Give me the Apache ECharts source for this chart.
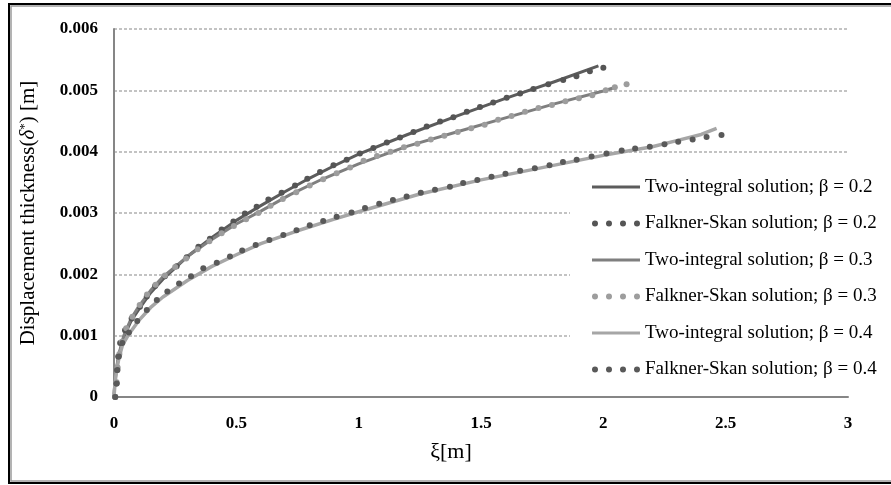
<!DOCTYPE html>
<html>
<head>
<meta charset="utf-8">
<script src="https://cdn.jsdelivr.net/npm/echarts@6/dist/echarts.min.js"></script>
<style>
  html, body { margin: 0; padding: 0; background: #fff; }
  #chart { width: 891px; height: 485px; }
</style>
</head>
<body>
<div id="chart"></div>
<script>
// Displacement thickness δ* [m] against ξ [m]: two-integral solutions (lines)
// and Falkner-Skan solutions (dots) for β = 0.2, 0.3 and 0.4.

const xTickLabels = ['0', '0.5', '1', '1.5', '2', '2.5', '3'];
const yTickLabels = ['0', '0.001', '0.002', '0.003', '0.004', '0.005', '0.006'];

const seriesNames = [
  'Two-integral solution; β = 0.2',
  'Falkner-Skan solution; β = 0.2',
  'Two-integral solution; β = 0.3',
  'Falkner-Skan solution; β = 0.3',
  'Two-integral solution; β = 0.4',
  'Falkner-Skan solution; β = 0.4'
];

// β = 0.2
const twoIntegral02 = [
  [0, 0], [0.003, 0.00022], [0.01, 0.00045], [0.02, 0.00068], [0.04, 0.00098],
  [0.07, 0.00124], [0.1, 0.00142], [0.15, 0.0017], [0.2, 0.00192], [0.3, 0.00229],
  [0.4, 0.0026], [0.5, 0.00288], [0.6, 0.00312], [0.7, 0.00335], [0.8, 0.00357],
  [0.9, 0.00377], [1.0, 0.00396], [1.2, 0.00428], [1.4, 0.00458], [1.6, 0.00487],
  [1.8, 0.00514], [1.98, 0.0054]
];
const falknerSkan02 = [
  [0.005, 0], [0.01, 0.00022], [0.013, 0.00044], [0.017, 0.00066], [0.025, 0.00088],
  [0.045, 0.00109], [0.072, 0.00128], [0.106, 0.00147], [0.134, 0.00164], [0.168, 0.00181],
  [0.208, 0.00197], [0.256, 0.00213], [0.297, 0.00228], [0.345, 0.00245], [0.392, 0.00258],
  [0.44, 0.00273], [0.488, 0.00286], [0.535, 0.00299], [0.583, 0.0031], [0.631, 0.00322],
  [0.685, 0.00333], [0.74, 0.00345], [0.79, 0.00356], [0.842, 0.00367], [0.897, 0.00378],
  [0.951, 0.00387], [1.005, 0.00397], [1.06, 0.00406], [1.115, 0.00415], [1.169, 0.00423],
  [1.224, 0.00432], [1.278, 0.00441], [1.333, 0.00449], [1.387, 0.00456], [1.442, 0.00465],
  [1.496, 0.00473], [1.55, 0.0048], [1.605, 0.00488], [1.66, 0.00495], [1.714, 0.00502],
  [1.775, 0.0051], [1.836, 0.00517], [1.89, 0.00523], [1.945, 0.00531], [2.0, 0.00537]
];

// β = 0.3
const twoIntegral03 = [
  [0, 0], [0.003, 0.00023], [0.01, 0.00047], [0.02, 0.0007], [0.04, 0.001],
  [0.07, 0.00128], [0.1, 0.00147], [0.15, 0.00174], [0.2, 0.00196], [0.3, 0.00229],
  [0.4, 0.00257], [0.5, 0.00282], [0.6, 0.00303], [0.72, 0.0033], [0.85, 0.00355],
  [1.0, 0.0038], [1.2, 0.00409], [1.4, 0.00432], [1.6, 0.00455], [1.8, 0.00478],
  [2.0, 0.00499], [2.05, 0.00505]
];
const falknerSkan03 = [
  [0.005, 0], [0.011, 0.00024], [0.015, 0.00048], [0.022, 0.0007], [0.032, 0.0009],
  [0.05, 0.00112], [0.075, 0.00131], [0.105, 0.0015], [0.135, 0.00167], [0.17, 0.00183],
  [0.208, 0.00198], [0.25, 0.00212], [0.295, 0.00226], [0.342, 0.00241], [0.39, 0.00254],
  [0.44, 0.00267], [0.49, 0.00279], [0.54, 0.0029], [0.59, 0.003], [0.64, 0.00312],
  [0.69, 0.00323], [0.745, 0.00334], [0.8, 0.00345], [0.855, 0.00355], [0.91, 0.00365],
  [0.965, 0.00374], [1.02, 0.00385], [1.075, 0.00393], [1.13, 0.004], [1.185, 0.00407],
  [1.24, 0.00413], [1.295, 0.0042], [1.35, 0.00426], [1.405, 0.00432], [1.46, 0.00438],
  [1.515, 0.00444], [1.57, 0.00452], [1.625, 0.00458], [1.68, 0.00465], [1.735, 0.00471],
  [1.79, 0.00476], [1.845, 0.00482], [1.9, 0.00487], [1.955, 0.00492], [2.01, 0.005],
  [2.047, 0.00505], [2.095, 0.0051]
];

// β = 0.4
const twoIntegral04 = [
  [0, 0], [0.004, 0.00022], [0.01, 0.00042], [0.02, 0.00063], [0.035, 0.00085],
  [0.06, 0.00102], [0.1, 0.00124], [0.15, 0.00146], [0.2, 0.00163], [0.3, 0.0019],
  [0.4, 0.00213], [0.5, 0.00232], [0.6, 0.0025], [0.75, 0.00271], [0.9, 0.0029],
  [1.0, 0.00302], [1.25, 0.00331], [1.5, 0.00354], [1.75, 0.00374], [2.0, 0.00394],
  [2.2, 0.00408], [2.3, 0.00418], [2.4, 0.00428], [2.463, 0.00438]
];
const falknerSkan04 = [
  [0.005, 0], [0.011, 0.00022], [0.014, 0.00044], [0.02, 0.00066], [0.034, 0.00088],
  [0.061, 0.00105], [0.095, 0.00124], [0.134, 0.00142], [0.175, 0.00158], [0.218, 0.00172],
  [0.266, 0.00185], [0.315, 0.00197], [0.365, 0.0021], [0.42, 0.00219], [0.474, 0.00229],
  [0.524, 0.00239], [0.579, 0.00248], [0.635, 0.00256], [0.692, 0.00264], [0.746, 0.00272],
  [0.8, 0.0028], [0.855, 0.00287], [0.91, 0.00294], [0.971, 0.00301], [1.026, 0.00308],
  [1.084, 0.00315], [1.14, 0.00321], [1.196, 0.00327], [1.254, 0.00333], [1.312, 0.00338],
  [1.373, 0.00343], [1.427, 0.00349], [1.485, 0.00354], [1.543, 0.00359], [1.6, 0.00364],
  [1.66, 0.00369], [1.72, 0.00373], [1.78, 0.00378], [1.835, 0.00383], [1.891, 0.00387],
  [1.952, 0.00392], [2.013, 0.00397], [2.075, 0.00402], [2.13, 0.00405], [2.19, 0.00408],
  [2.25, 0.00412], [2.306, 0.00416], [2.365, 0.0042], [2.422, 0.00424], [2.483, 0.00427]
];

const SERIF = '"Liberation Serif", "Times New Roman", serif';
// Legend icons: a row of four dots, and a flat bar padded to the full 48x6 box
const DOTS_ICON = 'path://M0,3a3,3 0 1,0 6,0a3,3 0 1,0 -6,0Z' +
  'M14,3a3,3 0 1,0 6,0a3,3 0 1,0 -6,0Z' +
  'M28,3a3,3 0 1,0 6,0a3,3 0 1,0 -6,0Z' +
  'M42,3a3,3 0 1,0 6,0a3,3 0 1,0 -6,0Z';
const BAR_ICON = 'path://M0,0L0,0L0,0ZM0,1.5L48,1.5L48,4.5L0,4.5ZM48,6L48,6L48,6Z';

function lineSeries(name, data, color, width) {
  return {
    name: name, type: 'line', data: data, symbol: 'none', showSymbol: false,
    smooth: false, z: 2,
    lineStyle: { color: color, width: width, join: 'round' },
    itemStyle: { color: color }
  };
}
function dotSeries(name, data, color) {
  return {
    name: name, type: 'scatter', data: data, symbol: 'circle', symbolSize: 6, z: 3,
    itemStyle: { color: color, opacity: 1 }
  };
}

const chart = echarts.init(document.getElementById('chart'), null, { renderer: 'canvas' });
chart.setOption({
  animation: false,
  backgroundColor: '#ffffff',
  textStyle: { fontFamily: SERIF },
  grid: { left: 114, right: 43, top: 29, bottom: 88, containLabel: false },
  xAxis: {
    type: 'value', min: 0, max: 3, interval: 0.5,
    name: 'ξ[m]', nameLocation: 'middle', nameGap: 44,
    nameTextStyle: { fontFamily: SERIF, fontSize: 22, color: '#000', padding: [0, 60, 0, 0] },
    axisLine: { show: true, lineStyle: { color: '#868686', width: 2 } },
    axisTick: { show: false },
    splitLine: { show: false },
    axisLabel: {
      margin: 18, fontFamily: SERIF, fontSize: 17, fontWeight: 'bold', color: '#000',
      formatter: function (v) { return xTickLabels[Math.round(v / 0.5)]; }
    }
  },
  yAxis: {
    type: 'value', min: 0, max: 0.006, interval: 0.001,
    name: '{t|Displacement thickness(}{d|δ}{s|*}{t|) [m]}',
    nameLocation: 'middle', nameGap: 75, nameRotate: 90,
    nameTextStyle: {
      fontFamily: SERIF, fontSize: 21, color: '#000',
      rich: {
        t: { fontFamily: SERIF, fontSize: 21, color: '#000' },
        d: { fontFamily: SERIF, fontSize: 21, fontStyle: 'italic', color: '#000' },
        s: { fontFamily: SERIF, fontSize: 13, color: '#000', verticalAlign: 'top', padding: [0, 0, 8, 0] }
      }
    },
    axisLine: { show: true, lineStyle: { color: '#868686', width: 2 } },
    axisTick: { show: false },
    splitLine: { show: true, lineStyle: { color: '#c3c3c3', width: 2, type: [3, 2] } },
    axisLabel: {
      margin: 16, fontFamily: SERIF, fontSize: 17, fontWeight: 'bold', color: '#000',
      formatter: function (v) { return yTickLabels[Math.round(v / 0.001)]; }
    }
  },
  legend: {
    orient: 'vertical', left: 570, top: 167,
    backgroundColor: '#ffffff',
    padding: [10, 10, 10, 22],
    itemWidth: 48, itemHeight: 6, itemGap: 16.5,
    textStyle: { fontFamily: SERIF, fontSize: 19, color: '#000', lineHeight: 20 },
    data: [
      { name: seriesNames[0], icon: BAR_ICON },
      { name: seriesNames[1], icon: DOTS_ICON },
      { name: seriesNames[2], icon: BAR_ICON },
      { name: seriesNames[3], icon: DOTS_ICON },
      { name: seriesNames[4], icon: BAR_ICON },
      { name: seriesNames[5], icon: DOTS_ICON }
    ]
  },
  graphic: [
    { type: 'rect', silent: true, z: 100, shape: { x: 9, y: 4, width: 1000, height: 479 },
      style: { fill: 'none', stroke: '#000', lineWidth: 2 } },
    { type: 'rect', silent: true, z: 100, shape: { x: 11, y: 6, width: 1000, height: 475 },
      style: { fill: 'none', stroke: '#9a9a9a', lineWidth: 1.5 } }
  ],
  series: [
    lineSeries(seriesNames[0], twoIntegral02, '#5c5c5c', 3),
    dotSeries(seriesNames[1], falknerSkan02, '#555555'),
    lineSeries(seriesNames[2], twoIntegral03, '#7f7f7f', 3),
    dotSeries(seriesNames[3], falknerSkan03, '#9d9d9d'),
    lineSeries(seriesNames[4], twoIntegral04, '#a6a6a6', 3.5),
    dotSeries(seriesNames[5], falknerSkan04, '#595959')
  ]
});
</script>
</body>
</html>
